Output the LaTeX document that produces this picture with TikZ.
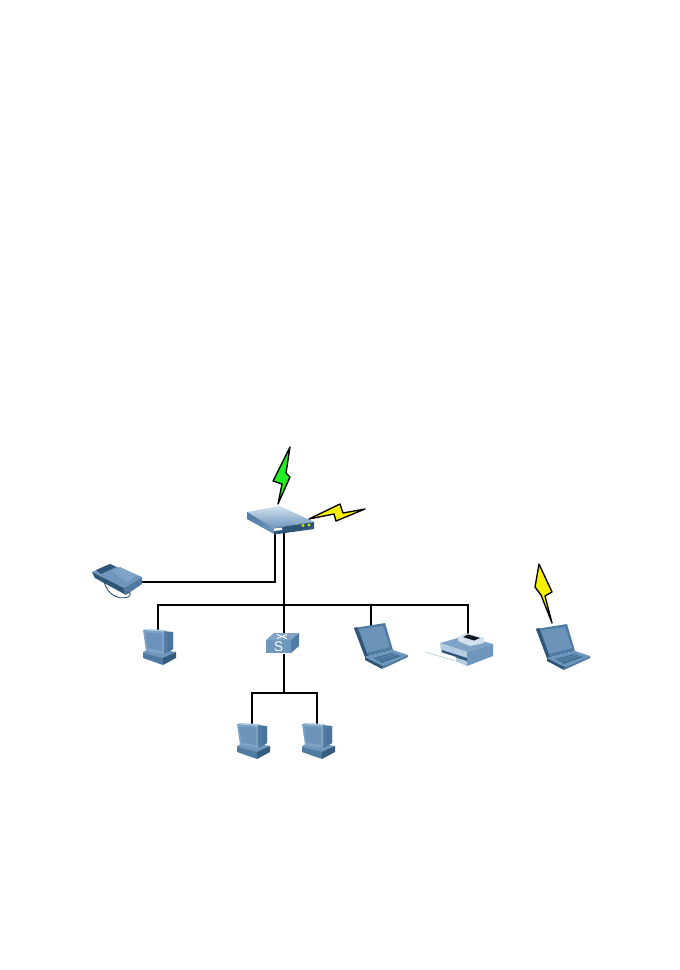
\documentclass[tikz,border=0pt]{standalone}
\usepackage{fontspec}
\setmainfont{Liberation Sans}
\definecolor{bmid}{HTML}{6F97BD}
\definecolor{bdark}{HTML}{4F7BA3}
\definecolor{bdeep}{HTML}{2F5678}
\definecolor{blight}{HTML}{B4CCE2}
\definecolor{bbezel}{HTML}{7FA3C6}
\definecolor{bscreen}{HTML}{6C94BB}
\definecolor{boltgreen}{HTML}{22EE22}
\definecolor{boltyellow}{HTML}{F8F000}
\tikzset{
  x=0.75pt,y=-0.75pt,
  wire/.style={draw=black,line width=1.8pt,line join=miter},
  thinwire/.style={draw=black,line width=1pt},
  bolt/.style={draw=black,line width=1pt,line join=round},
  pcpic/.pic={
    \fill[bmid] (0,23)--(8,19)--(33,23)--(20,30)--(0,26)--cycle;
    \fill[bdark] (0,24)--(20,29)--(20,36)--(0,29)--cycle;
    \fill[bdeep!80!bdark] (20,29)--(33,23)--(33,29)--(20,36)--cycle;
    \fill[bdark] (21,2)--(30,3)--(30,20)--(21,25)--cycle;
    \fill[bdark!80!bdeep] (25,3)--(30,3)--(30,20)--(25,23)--cycle;
    \fill[blight] (0,1)--(3,0)--(23,1)--(21,2.5)--cycle;
    \fill[bbezel] (0,1)--(21,2.5)--(21,25)--(3,22)--cycle;
    \fill[bscreen] (2,3.5)--(19,4.5)--(19,22)--(4.5,19.5)--cycle;
  },
  laptoppic/.pic={
    \fill[bdark] (0,5)--(31,0)--(39,27)--(11,34)--cycle;
    \fill[bdeep] (0,5)--(3,4)--(14,33)--(11,34)--cycle;
    \fill[bscreen] (5,6)--(29,3)--(36,24)--(13,30)--cycle;
    \fill[bmid] (11,34)--(39,27)--(54,32)--(29,43)--cycle;
    \fill[bdeep] (11,34)--(29,43)--(28,46)--(11,37)--cycle;
    \fill[bdark] (29,43)--(54,32)--(54,34)--(28,46)--cycle;
    \fill[bdark!70!bdeep] (19,35)--(38,30)--(47,33)--(28,40)--cycle;
    \draw[bmid,line width=0.3pt] (21,36.5)--(40,31) (24,38)--(43,32);
  },
}
\begin{document}
\begin{tikzpicture}
\useasboundingbox (0,0) rectangle (680,970);
\fill[white] (0,0) rectangle (680,970);

% connection points
\coordinate (routerA) at (275,530);
\coordinate (routerB) at (284,530);
\coordinate (phone) at (140,582);
\coordinate (busjoin) at (284,605);
\coordinate (pcA) at (158,632);
\coordinate (lapA) at (371,626);
\coordinate (printer) at (468,636);
\coordinate (switchTop) at (284,636);
\coordinate (switchBot) at (284,654);
\coordinate (subjoin) at (284,693);
\coordinate (pcB) at (252,726);
\coordinate (pcC) at (317,726);

% wires
\draw[wire] (phone) -| (routerA);
\draw[wire] (routerB) -- (switchTop);
\draw[wire] (pcA) |- (busjoin) -| (printer);
\draw[wire] (lapA) -- (lapA |- busjoin);
\draw[wire] (switchBot) -- (subjoin);
\draw[wire,line width=1.4pt] (pcB) |- (subjoin);
\draw[thinwire] (pcC) |- (subjoin);

% router
\shade[top color=blight!60!white,bottom color=bmid] (247,512)--(280,506)--(314,522)--(274,528)--cycle;
\shade[left color=bdark,right color=bmid] (247,512)--(274,528)--(274,534)--(247,519)--cycle;
\fill[bdeep] (274,528)--(314,522)--(314,529)--(274,534.5)--cycle;
\fill[white] (274,528.5)--(282,527.5)--(282,530)--(274,531)--cycle;
\fill[yellow!80!green] (303,525.5) circle (1.6);
\fill[yellow!80!green] (309,525) circle (1.6);
\node[inner sep=0,minimum size=0] (router) at (281,520) {};

% bolts
\draw[bolt,fill=boltgreen] (290,447)--(286,473)--(290,477)--(278,504)--(282,484)--(273,481)--cycle;
\draw[bolt,fill=boltyellow] (309,519)--(340,504)--(343,513)--(365,509)--(336,521)--(334,514)--cycle;
\draw[bolt,fill=boltyellow] (539,564)--(552,592)--(545,596)--(552,623)--(541,595)--(535,587)--cycle;

% phone
\fill[bmid] (92,572)--(110,564)--(142,577)--(124,588)--cycle;
\fill[bdeep] (92,572)--(124,588)--(126,595)--(95,578)--cycle;
\fill[bdark] (124,588)--(142,577)--(142,584)--(126,595)--cycle;
\fill[bdeep] (96,570)--(110,564)--(116,567)--(101,574)--cycle;
\fill[bbezel] (112,571)--(120,567)--(137,575)--(127,582)--cycle;
\draw[bdeep,line width=0.7pt] (104,582) .. controls (108,595) and (118,600) .. (128,597) .. controls (132,595) and (130,592) .. (127,592);

% computers
\pic at (143,629) {pcpic};
\pic at (237,723) {pcpic};
\pic at (302,723) {pcpic};

% switch
\fill[bmid] (266,640)--(291,640)--(291,653)--(266,653)--cycle;
\fill[bbezel] (266,640)--(274,633)--(299,633)--(291,640)--cycle;
\fill[bdark] (291,640)--(299,633)--(299,646)--(291,653)--cycle;
\draw[white,line width=0.7pt] (277,638.5)--(287,634.5) (277,634.5)--(287,638.5);
\node[inner sep=0,text=white,font=\fontsize{10.5}{11}\selectfont] (sw) at (278.5,646.5) {S};

% laptops
\pic at (354,623) {laptoppic};
\pic at (536,624) {laptoppic};

% printer
\fill[white] (425,652)--(441,650)--(456,657)--(456,661)--cycle;
\draw[blight,line width=0.5pt] (425,652)--(456,661);
\fill[bbezel] (440,643)--(465,636)--(493,644)--(467,652)--cycle;
\fill[blight] (440,643)--(467,652)--(467,666)--(455,661)--(441,652)--cycle;
\fill[bmid] (467,652)--(493,644)--(493,656)--(467,666)--cycle;
\fill[blight!60!white] (458,637)--(466,633)--(484,638)--(484,643)--(470,646)--(458,641)--cycle;
\fill[black!75!bdeep] (463,637)--(468,634.5)--(480,638)--(474,640.5)--cycle;
\fill[bdeep] (442,650)--(467,658)--(467,661)--(442,653)--cycle;
\fill[white] (442,652.5)--(456,657)--(456,661)--(442,654)--cycle;
\end{tikzpicture}
\end{document}
